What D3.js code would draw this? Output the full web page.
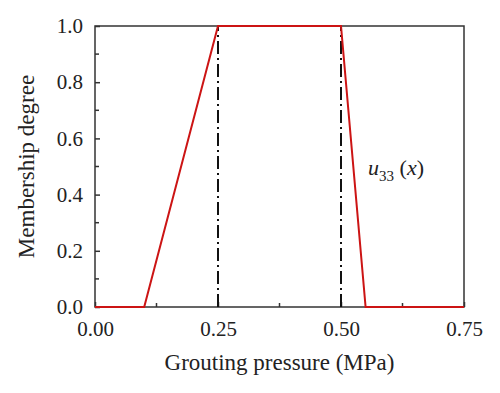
<!DOCTYPE html>
<html>
<head>
<meta charset="utf-8">
<script src="https://cdn.jsdelivr.net/npm/d3@7"></script>
<style>
  body { margin: 0; background: #fff; }
  svg text { font-family: "Liberation Serif", "DejaVu Serif", serif; fill: #222; }
</style>
</head>
<body>
<svg id="chart" width="500" height="393"></svg>
<script>
// membership function u33(x)
const pressure = [0, 0.1, 0.25, 0.5, 0.55, 0.75];
const membership = [0, 0, 1, 1, 0, 0];
const markerX = [0.25, 0.5];
const xTicks = [0, 0.25, 0.5, 0.75];
const xMinor = [0.125, 0.375, 0.625];
const yTicks = [0, 0.2, 0.4, 0.6, 0.8, 1.0];
const yMinor = [0.1, 0.3, 0.5, 0.7, 0.9];

const margin = { top: 26, right: 36, bottom: 86, left: 95 };
const width = 500, height = 393;
const w = width - margin.left - margin.right;
const h = height - margin.top - margin.bottom;

const svg = d3.select('#chart');
const g = svg.append('g').attr('transform', `translate(${margin.left},${margin.top})`);

const x = d3.scaleLinear().domain([0, 0.75]).range([0, w]);
const y = d3.scaleLinear().domain([0, 1]).range([h, 0]);

// frame
g.append('rect')
  .attr('width', w).attr('height', h)
  .attr('fill', 'none').attr('stroke', '#333').attr('stroke-width', 1.5);

// x axis (ticks inward)
const xAxis = g.append('g').attr('transform', `translate(0,${h})`)
  .call(d3.axisBottom(x).tickValues(xTicks).tickFormat(d3.format('.2f'))
    .tickSizeInner(-5).tickSizeOuter(0).tickPadding(14));
xAxis.append('g').selectAll('line').data(xMinor).enter().append('line')
  .attr('x1', d => x(d)).attr('x2', d => x(d))
  .attr('y1', 0).attr('y2', -4);

const yAxis = g.append('g')
  .call(d3.axisLeft(y).tickValues(yTicks).tickFormat(d3.format('.1f'))
    .tickSizeInner(-5).tickSizeOuter(0).tickPadding(12));
yAxis.append('g').selectAll('line').data(yMinor).enter().append('line')
  .attr('y1', d => y(d)).attr('y2', d => y(d))
  .attr('x1', 0).attr('x2', 4);

[xAxis, yAxis].forEach(a => {
  a.select('.domain').remove();
  a.selectAll('line').attr('stroke', '#333').attr('stroke-width', 1.5);
  a.selectAll('text').style('font-size', '21px').attr('fill', '#222');
});

// dash-dot markers
g.selectAll('line.marker').data(markerX).enter().append('line')
  .attr('class', 'marker')
  .attr('x1', d => x(d)).attr('x2', d => x(d))
  .attr('y1', y(0)).attr('y2', y(1))
  .attr('stroke', '#111').attr('stroke-width', 2)
  .attr('stroke-dasharray', '13,4,2,4');

// membership curve
const pts = pressure.map((p, i) => [p, membership[i]]);
g.append('path')
  .datum(pts)
  .attr('fill', 'none')
  .attr('stroke', '#cc1414')
  .attr('stroke-width', 2)
  .attr('d', d3.line().x(d => x(d[0])).y(d => y(d[1])));

// label
const lab = g.append('text')
  .attr('x', x(0.555)).attr('y', y(0.47))
  .style('font-size', '22px');
lab.append('tspan').style('font-style', 'italic').text('u');
lab.append('tspan').attr('dy', 6).style('font-size', '15px').text('33');
lab.append('tspan').attr('dy', -6).text(' (');
lab.append('tspan').style('font-style', 'italic').text('x');
lab.append('tspan').text(')');

// axis titles
svg.append('text')
  .attr('x', margin.left + w / 2).attr('y', 370)
  .attr('text-anchor', 'middle')
  .style('font-size', '23px')
  .text('Grouting pressure (MPa)');

svg.append('text')
  .attr('transform', `translate(34,${margin.top + h / 2}) rotate(-90)`)
  .attr('text-anchor', 'middle')
  .style('font-size', '23px')
  .text('Membership degree');
</script>
</body>
</html>
